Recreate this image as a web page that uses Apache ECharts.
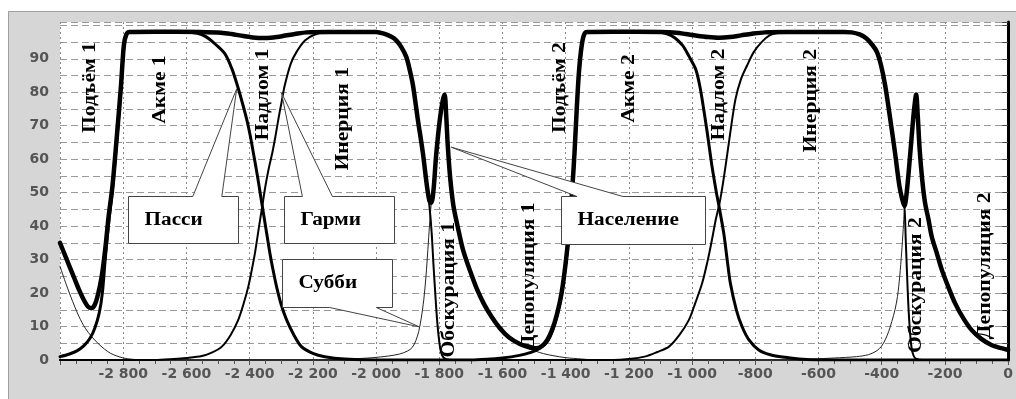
<!DOCTYPE html>
<html><head><meta charset="utf-8">
<script src="https://cdn.jsdelivr.net/npm/echarts@6/dist/echarts.min.js"></script>
<style>html,body{margin:0;padding:0;background:#fff;}#c{width:1016px;height:399px;}</style>
</head><body><div id="c"></div>
<script>
// ---- data (years, values) ----
const popYears = [-3000,-2985,-2970,-2955,-2940,-2925,-2912,-2900,-2890,-2880,-2868,-2857,-2846,-2834,-2820,-2807,-2798,-2790,-2780,-2700,-2560,-2490,-2457,-2420,-2390,-2358,-2325,-2295,-2257,-2220,-2150,-2000,-1975,-1950,-1936,-1920,-1904,-1893,-1883,-1868,-1852,-1839,-1831,-1825,-1818,-1810,-1798,-1789,-1783,-1778,-1773,-1765,-1755,-1742,-1725,-1702,-1680,-1660,-1635,-1608,-1580,-1545,-1515,-1494,-1475,-1458,-1443,-1428,-1413,-1400,-1390,-1380,-1372,-1365,-1358,-1350,-1342,-1332,-1250,-1100,-1050,-1020,-985,-950,-915,-880,-845,-810,-770,-700,-520,-495,-470,-450,-430,-415,-402,-389,-373,-358,-344,-335,-328,-321,-313,-305,-298,-291,-286,-280,-272,-263,-252,-242,-226,-210,-190,-168,-142,-116,-85,-53,-25,0];
const popValues = [35,31.5,28,24.5,21,18,16,15.5,16.5,19.5,25,33,43,52,67,82,94,97.3,98,98.1,98,97.8,97.4,96.8,96.4,96.2,96.4,96.8,97.4,97.9,98,98,97.5,96.5,95.5,93.5,90.5,86.5,82,72,62,52,47.5,47,51,61,72,77.5,79.3,73,64,54,46,40,33,26.5,21,17,13,9.5,6.8,4.8,3.8,3.5,4.2,6,9,13.5,20,29,38,50,62,75,86,93.5,97.2,98,98.1,98,97.8,97.4,96.9,96.5,96.3,96.5,97,97.5,97.9,98,98,97.9,97.3,96.2,94.2,92,88,82,72,62,52,48,46,50,58,67,74.5,79.3,73,63,54,47,42,37,32,27,22,17,12.5,9,6.3,4.5,3.6,3];

const passiYears = [-3000,-2970,-2945,-2925,-2905,-2890,-2876,-2866,-2857,-2846,-2834,-2820,-2807,-2798,-2790,-2780,-2600,-2565,-2540,-2510,-2478,-2456,-2438,-2422,-2409,-2398,-2388,-2378,-2370,-2360,-2348,-2336,-2325,-2315,-2300,-2283,-2260,-2236,-2200,-2162,-2100,-2000,-1700,-1650,-1600,-1550,-1510,-1480,-1458,-1443,-1428,-1413,-1400,-1390,-1380,-1372,-1365,-1358,-1350,-1342,-1332,-1110,-1080,-1055,-1030,-1010,-989,-978,-968,-952,-937,-923,-915,-900,-889,-879,-860,-842,-820,-789,-750,-705,-650,-600,0];
const passiValues = [1,1.8,2.8,4.2,6.5,9.5,14,20,30,41,51,66,81,93.5,97.2,97.9,97.9,97.6,96.7,94.5,91.5,87,81.8,76.5,71.8,67,61.8,56.5,51.9,46,39,32,26.5,22,16.5,12,7.5,4,2,1,0.3,0,0,0.2,0.6,1.3,2.3,3.6,5.5,8.5,13,19.5,28.5,37.5,49.5,61.5,74.5,85.5,93.2,97.1,97.9,97.9,97.5,96.3,94,90.8,87,83,77.8,67.9,57.9,50,46,38,30,23,15,10,6,3,1.5,0.8,0.2,0,0];

const garmiYears = [-3000,-2700,-2640,-2600,-2551,-2520,-2488,-2460,-2436,-2420,-2404,-2393,-2383,-2370,-2360,-2350,-2340,-2328,-2318,-2309,-2299,-2289,-2270,-2252,-2225,-2195,-2160,-2000,-1975,-1950,-1936,-1920,-1904,-1893,-1883,-1868,-1852,-1839,-1831,-1824,-1818,-1812,-1806,-1800,-1794,-1786,-1770,-1700,-1250,-1200,-1150,-1110,-1073,-1040,-1010,-990,-968,-950,-937,-925,-915,-907,-894,-879,-863,-845,-826,-805,-780,-755,-730,-700,-520,-495,-470,-450,-430,-415,-402,-389,-373,-358,-344,-335,-328,-324,-320,-316,-311,-306,-300,-292,-270,0];
const garmiValues = [0,0,0.3,0.6,1.2,2.2,4,7.5,12,16.5,22,27,32,40,46,52,57,62,67,72,77,82,88.5,92,95.5,97.2,97.9,97.9,97.5,96.5,95.5,93.5,90.5,86.5,82,72,62,52,46,38,28,19,11,5.5,2.2,0.7,0.1,0,0,0.3,1,2.4,4,7.5,12,17,23,30,36,42,46,50,58,68,77.8,84,88,92,95,97,97.7,97.9,97.9,97.9,97.3,96.2,94.2,92,88,82,72,62,52,48,45.5,36,26,17,9,4,1.5,0.4,0,0];

const subbiYears = [-3000,-2980,-2960,-2940,-2920,-2900,-2880,-2860,-2840,-2820,-2800,-2770,-2720,-2150,-2080,-2010,-1960,-1925,-1900,-1885,-1874,-1865,-1857,-1849,-1842,-1836,-1831,-1825,-1818,-1810,-1798,-1789,-1783,-1778,-1773,-1765,-1755,-1742,-1725,-1702,-1680,-1660,-1635,-1608,-1580,-1545,-1515,-1494,-1470,-1440,-1400,-1350,-1300,-700,-620,-550,-480,-442,-415,-400,-389,-378,-368,-358,-350,-343,-337,-332,-328,-321,-313,-305,-298,-291,-286,-280,-272,-263,-252,-242,-226,-210,-190,-168,-142,-116,-85,-53,-25,0];
const subbiValues = [28,22.5,17.5,13,9.5,7,5,3.3,2,1.2,0.6,0.2,0,0,0.3,0.7,1.2,1.8,2.7,3.8,5.8,8.5,12.5,18,25,33,40,47,51,61,72,77.5,79.3,73,64,54,46,40,33,26.5,21,17,13,9.5,6.8,4.6,3.3,2.6,1.9,1.3,0.7,0.3,0,0,0.3,0.6,1,1.6,2.8,4.2,6,8.5,11.5,15,19,25,32,39,45,50,58,67,74.5,79.3,73,63,54,47,42,37,32,27,22,17,12.5,9,6.3,4.5,3.6,3];

// ---- annotations (positions in data coordinates) ----
const phaseText = ['Подъём 1','Акме 1','Надлом 1','Инерция 1','Обскурация 1','Депопуляция 1','Подъём 2','Акме 2','Надлом 2','Инерция 2','Обскурация 2','Депопуляция 2'];
const phaseAt = [[-2904,81.4],[-2683,80.8],[-2358,79.3],[-2105,72.1],[-1768,21],[-1515,25.1],[-1417,81.4],[-1199,81.1],[-915,79.3],[-622,77.5],[-290,22.4],[-73,28.1]];
const callouts = [
  {text:'Пасси', box:[-2785,49.0,-2438,35.0], tip:[-2441,81], base:[-2580,-2488], side:'top'},
  {text:'Гарми', box:[-2290,49.0,-1942,35.0], tip:[-2299,79.8], base:[-2233,-2138], side:'top'},
  {text:'Субби', box:[-2296,30.2,-1948,15.8], tip:[-1863,9.9], base:[-2147,-1999], side:'bottom'},
  {text:'Население', box:[-1415,49.0,-960,34.7], tip:[-1762,63.6], base:[-1364,-1219], side:'top'}
];

function zip(a,b){return a.map((x,i)=>[x,b[i]]);}
function fmtX(v){
  if (v === -3000) return '';
  const s = String(Math.abs(v));
  const t = s.length > 3 ? s.slice(0, s.length-3) + ' ' + s.slice(-3) : s;
  return (v < 0 ? '-' : '') + t;
}
const chart = echarts.init(document.getElementById('c'), null, {renderer:'canvas'});
const lineSeries = (name, data, w, color, z) => ({
  name, type:'line', data, showSymbol:false, smooth:0.3, z,
  lineStyle:{width:w, color:color, cap:'round', join:'round'}, animation:false
});
chart.setOption({
  animation:false,
  backgroundColor:'#d6d6d6',
  grid:{left:60, right:6, top:22, bottom:39, show:true, backgroundColor:'#ffffff', borderWidth:0},
  xAxis:{type:'value', min:-3000, max:0, interval:200,
    axisLine:{show:true, onZero:false, lineStyle:{color:'#333', width:2}},
    axisTick:{show:true, length:5, lineStyle:{color:'#555'}},
    minorTick:{show:true, splitNumber:4, length:4, lineStyle:{color:'#555'}},
    axisLabel:{formatter:fmtX, color:'#555', fontFamily:'DejaVu Sans', fontSize:14, fontWeight:'bold', margin:7},
    splitLine:{show:true, lineStyle:{color:'#8a8a8a', width:1, type:[2,3]}}
  },
  yAxis:{type:'value', min:0, max:101, interval:5,
    axisLine:{show:true, lineStyle:{color:'#000', width:3}},
    axisTick:{show:true, length:6, lineStyle:{color:'#444'}},
    axisLabel:{formatter:v => (v % 10 === 0 && v < 100) ? String(v) : '', color:'#555', fontFamily:'DejaVu Sans', fontSize:14, fontWeight:'bold', margin:11},
    splitLine:{show:true, lineStyle:{color:'#9a9a9a', width:1, type:[7,4]}}
  },
  series:[
    lineSeries('Субби', zip(subbiYears, subbiValues), 1, '#222', 2),
    lineSeries('Гарми', zip(garmiYears, garmiValues), 2, '#000', 3),
    lineSeries('Пасси', zip(passiYears, passiValues), 3, '#000', 4),
    lineSeries('Население', zip(popYears, popValues), 4.5, '#000', 5)
  ]
});

function P(x,y){return chart.convertToPixel({gridIndex:0},[x,y]);}
const g = [];
// outer frame
g.push({type:'rect', shape:{x:0,y:0,width:1016,height:11}, style:{fill:'#fff'}, z:1, silent:true});
g.push({type:'rect', shape:{x:0,y:0,width:8,height:399}, style:{fill:'#fff'}, z:1, silent:true});
g.push({type:'polyline', shape:{points:[[8.5,399],[8.5,11.5],[1016,11.5]]}, style:{stroke:'#a0a0a0', lineWidth:1, fill:null}, z:1, silent:true});
// phase labels
phaseText.forEach((t,i)=>{
  const p = P(phaseAt[i][0], phaseAt[i][1]);
  g.push({type:'text', x:p[0], y:p[1], rotation:Math.PI/2, scaleX:1.2, z:60, silent:true,
    style:{text:t, font:'bold 18px "Liberation Serif"', fill:'#000', align:'center', verticalAlign:'middle', textAlign:'center', textVerticalAlign:'middle'}});
});
// callouts
callouts.forEach(c=>{
  const a = P(c.box[0], c.box[1]), b = P(c.box[2], c.box[3]);
  const tip = P(c.tip[0], c.tip[1]);
  const x0=Math.round(a[0])+0.5, y0=Math.round(a[1])+0.5, x1=Math.round(b[0])+0.5, y1=Math.round(b[1])+0.5;
  const b1 = P(c.base[0],0)[0], b2 = P(c.base[1],0)[0];
  let pts;
  if (c.side === 'top') pts = [[x0,y0],[b1,y0],tip,[b2,y0],[x1,y0],[x1,y1],[x0,y1]];
  else pts = [[x0,y0],[x1,y0],[x1,y1],[b2,y1],tip,[b1,y1],[x0,y1]];
  g.push({type:'polygon', shape:{points:pts}, style:{fill:'#fff', stroke:'#444', lineWidth:1}, z:70, silent:true});
  g.push({type:'text', x:x0+16, y:(y0+y1)/2, scaleX:1.18, z:71, silent:true,
    style:{text:c.text, font:'bold 18px "Liberation Serif"', fill:'#000', align:'left', verticalAlign:'middle', textAlign:'left', textVerticalAlign:'middle'}});
});
chart.setOption({graphic:{elements:g}});
</script>
</body></html>
